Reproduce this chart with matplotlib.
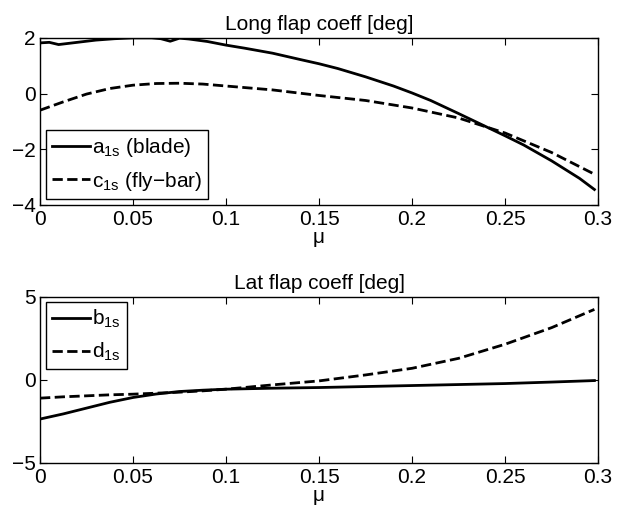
import numpy as np
import matplotlib
matplotlib.use('Agg')
import matplotlib.pyplot as plt

plt.rcParams['font.family'] = ['Liberation Sans', 'DejaVu Sans']
plt.rcParams['mathtext.fontset'] = 'custom'
plt.rcParams['mathtext.rm'] = 'Liberation Sans'

# Longitudinal flapping
mu_long = [0, 0.005, 0.01, 0.02, 0.03, 0.04, 0.05, 0.06, 0.065, 0.07, 0.075,
           0.08, 0.09, 0.1, 0.11, 0.125, 0.14, 0.15, 0.16, 0.175, 0.19, 0.2,
           0.21, 0.225, 0.24, 0.25, 0.26, 0.275, 0.29, 0.298]
a1s = [1.82, 1.84, 1.76, 1.84, 1.92, 1.97, 2.0, 2.0, 1.97, 1.88, 1.99,
       1.96, 1.87, 1.74, 1.63, 1.45, 1.22, 1.07, 0.9, 0.6, 0.27, 0.02,
       -0.25, -0.72, -1.2, -1.52, -1.85, -2.42, -3.05, -3.45]

mu_c = [0, 0.0125, 0.025, 0.0375, 0.05, 0.0625, 0.075, 0.0875, 0.1, 0.125,
        0.15, 0.175, 0.2, 0.225, 0.25, 0.275, 0.298]
c1s = [-0.6, -0.3, -0.02, 0.18, 0.3, 0.36, 0.37, 0.34, 0.27, 0.13,
       -0.07, -0.25, -0.52, -0.88, -1.42, -2.12, -2.9]

# Lateral flapping
mu_lat = [0, 0.0125, 0.025, 0.0375, 0.05, 0.0625, 0.075, 0.0875, 0.1, 0.125,
          0.15, 0.175, 0.2, 0.225, 0.25, 0.275, 0.298]
b1s = [-2.36, -2.05, -1.7, -1.35, -1.06, -0.85, -0.7, -0.62, -0.56, -0.5,
       -0.46, -0.4, -0.34, -0.28, -0.22, -0.13, -0.04]
d1s = [-1.1, -1.02, -0.96, -0.9, -0.86, -0.8, -0.74, -0.66, -0.56, -0.3,
       -0.06, 0.3, 0.7, 1.3, 2.15, 3.15, 4.25]

fig = plt.figure(figsize=(6.25, 5.12), dpi=100)
ax1 = fig.add_axes([0.064, 0.600, 0.893, 0.326])
ax2 = fig.add_axes([0.064, 0.096, 0.893, 0.324])

fs = 15

def style(ax):
    ax.set_xlim(0, 0.3)
    ax.set_xticks([0, 0.05, 0.1, 0.15, 0.2, 0.25, 0.3])
    ax.set_xticklabels(['0', '0.05', '0.1', '0.15', '0.2', '0.25', '0.3'])
    ax.tick_params(direction='in', top=True, right=True, length=5, width=0.8,
                   labelsize=fs)
    ax.tick_params(axis='x', pad=4)
    ax.tick_params(axis='y', pad=3)
    ax.set_xlabel('μ', fontsize=fs, labelpad=-1)
    for s in ax.spines.values():
        s.set_linewidth(1.0)

leg_kw = dict(fontsize=fs, handlelength=1.8, handletextpad=0.1, borderpad=0.3,
              labelspacing=0.5, fancybox=False, edgecolor='k', framealpha=1,
              borderaxespad=0)

ax1.plot(mu_long, a1s, 'k-', lw=2, label=r'$\mathregular{a_{1s}}$ (blade)')
ax1.plot(mu_c, c1s, 'k--', lw=2, label=r'$\mathregular{c_{1s}}$ (fly$-$bar)')
style(ax1)
ax1.set_ylim(-4, 2)
ax1.set_yticks([-4, -2, 0, 2])
ax1.set_yticklabels(['\u22124', '\u22122', '0', '2'])
ax1.set_title('Long flap coeff [deg]', fontsize=fs, pad=6)
leg1 = ax1.legend(loc='lower left', bbox_to_anchor=(0.011, 0.036), **leg_kw)
leg1.get_frame().set_linewidth(1.0)

ax2.plot(mu_lat, b1s, 'k-', lw=2, label=r'$\mathregular{b_{1s}}$')
ax2.plot(mu_lat, d1s, 'k--', lw=2, label=r'$\mathregular{d_{1s}}$')
style(ax2)
ax2.set_ylim(-5, 5)
ax2.set_yticks([-5, 0, 5])
ax2.set_yticklabels(['\u22125', '0', '5'])
ax2.set_title('Lat flap coeff [deg]', fontsize=fs, pad=6)
leg2 = ax2.legend(loc='upper left', bbox_to_anchor=(0.011, 0.97), **leg_kw)
leg2.get_frame().set_linewidth(1.0)

fig.savefig('out.png', dpi=100)
